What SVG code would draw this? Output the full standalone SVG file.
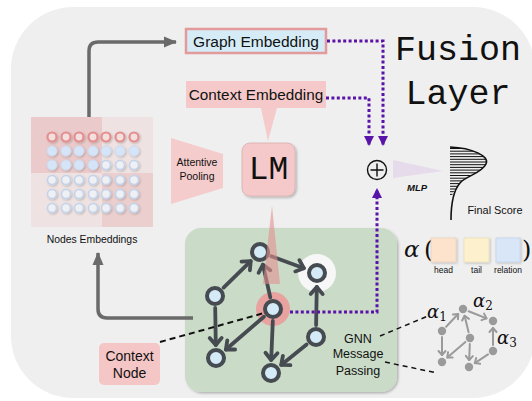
<svg xmlns="http://www.w3.org/2000/svg" width="532" height="401" viewBox="0 0 532 401">
<style>
.t{font-family:"Liberation Sans","DejaVu Sans",sans-serif;fill:#111}
.mono{font-family:"Liberation Mono","Courier New",monospace;fill:#111}
.math{font-family:"DejaVu Serif","Liberation Serif",serif;font-style:italic;fill:#111}
.gr{fill:none;stroke:#6a6a6a;stroke-width:3.5;stroke-linejoin:round}
.pu{fill:none;stroke:#5a13a8;stroke-width:3;stroke-dasharray:3 2.4}
.ge{stroke:#454b50;stroke-width:3.8;stroke-linecap:round;marker-end:url(#chev)}
.gn{fill:#d4ebf7;stroke:#454b50;stroke-width:4}
.se{stroke:#9a9a9a;stroke-width:2;stroke-linecap:round;marker-end:url(#schev)}
.sn{fill:#9a9a9a}
.ring{fill:#eef0f4;stroke:#c3d3ea;stroke-width:1.6}
.fill{fill:#d6e4f7;stroke:#cbdaf0;stroke-width:1}
.pring{fill:#f4dede;stroke:#e38f8f;stroke-width:2.2}
.hatch line{stroke:#111;stroke-width:1}
</style>
<defs>
<filter id="sh" x="-20%" y="-20%" width="150%" height="150%"><feDropShadow dx="1.5" dy="1.5" stdDeviation="1.2" flood-color="#000" flood-opacity="0.25"/></filter>
<filter id="shs" x="-50%" y="-50%" width="200%" height="200%"><feDropShadow dx="1" dy="1" stdDeviation="0.8" flood-color="#000" flood-opacity="0.22"/></filter>
<marker id="garr" markerUnits="userSpaceOnUse" markerWidth="14" markerHeight="12" refX="12" refY="6" orient="auto"><path d="M0,0.5 L13,6 L0,11.5 z" fill="#6a6a6a"/></marker>
<marker id="parr" markerUnits="userSpaceOnUse" markerWidth="11" markerHeight="11" refX="9" refY="5" orient="auto"><path d="M0,0 L10,5 L0,10 z" fill="#5a13a8"/></marker>
<marker id="chev" markerUnits="userSpaceOnUse" markerWidth="14" markerHeight="14" refX="8" refY="6.5" orient="auto" overflow="visible"><path d="M1,0.5 L8,6.5 L1,12.5" fill="none" stroke="#454b50" stroke-width="3.8" stroke-linecap="round" stroke-linejoin="round"/></marker>
<marker id="schev" markerUnits="userSpaceOnUse" markerWidth="8" markerHeight="8" refX="4.5" refY="4" orient="auto" overflow="visible"><path d="M0.5,0.5 L4.5,4 L0.5,7.5" fill="none" stroke="#9a9a9a" stroke-width="2" stroke-linecap="round" stroke-linejoin="round"/></marker>
<clipPath id="hc"><path d="M450,147 C472,148 490,156 486,164 C482,173 466,176 460,183 C455,189 453,193 452,196 L450,196 Z"/></clipPath>
</defs>

<rect x="11" y="7" width="524" height="391" rx="62" fill="#efefef"/>

<g id="graph-embedding">
<rect x="186" y="29" width="140" height="24" fill="#d5ecf6" stroke="#e39a9a" stroke-width="2.5"/>
<text class="t" x="256" y="46.5" font-size="15.5" text-anchor="middle">Graph Embedding</text>
</g>

<g id="context-embedding">
<rect x="186" y="81" width="140" height="27" fill="#f5c9c9"/>
<text class="t" x="256" y="100" font-size="15.3" text-anchor="middle">Context Embedding</text>
<polygon points="261,108 277,108 268,141" fill="#f5caca"/>
</g>

<g id="nodes-embeddings">
<rect x="31" y="117" width="71" height="56" fill="#eacaca"/>
<rect x="102" y="117" width="51" height="56" fill="#eee2e2"/>
<rect x="31" y="173" width="71" height="54" fill="#eee2e2"/>
<rect x="102" y="173" width="51" height="54" fill="#ebcfcf"/>
<g filter="url(#shs)">
<circle class="pring" cx="52" cy="137" r="4.5"/><circle class="pring" cx="66" cy="137" r="4.5"/><circle class="pring" cx="79" cy="137" r="4.5"/><circle class="pring" cx="93" cy="137" r="4.5"/><circle class="pring" cx="106" cy="137" r="4.5"/><circle class="pring" cx="120" cy="137" r="4.5"/><circle class="pring" cx="134" cy="137" r="4.5"/>
<circle class="fill" cx="52" cy="151" r="5"/><circle class="fill" cx="66" cy="151" r="5"/><circle class="fill" cx="79" cy="151" r="5"/><circle class="fill" cx="93" cy="151" r="5"/><circle class="fill" cx="106" cy="151" r="5"/><circle class="fill" cx="120" cy="151" r="5"/><circle class="fill" cx="134" cy="151" r="5"/>
<circle class="fill" cx="52" cy="165" r="5"/><circle class="fill" cx="66" cy="165" r="5"/><circle class="fill" cx="79" cy="165" r="5"/><circle class="fill" cx="93" cy="165" r="5"/><circle class="ring" cx="106" cy="165" r="4.5"/><circle class="ring" cx="120" cy="165" r="4.5"/><circle class="ring" cx="134" cy="165" r="4.5"/>
<circle class="ring" cx="52" cy="180" r="4.5"/><circle class="ring" cx="66" cy="180" r="4.5"/><circle class="ring" cx="79" cy="180" r="4.5"/><circle class="ring" cx="93" cy="180" r="4.5"/><circle class="ring" cx="106" cy="180" r="4.5"/><circle class="ring" cx="120" cy="180" r="4.5"/><circle class="ring" cx="134" cy="180" r="4.5"/>
<circle class="ring" cx="52" cy="194" r="4.5"/><circle class="ring" cx="66" cy="194" r="4.5"/><circle class="ring" cx="79" cy="194" r="4.5"/><circle class="ring" cx="93" cy="194" r="4.5"/><circle class="ring" cx="106" cy="194" r="4.5"/><circle class="ring" cx="120" cy="194" r="4.5"/><circle class="ring" cx="134" cy="194" r="4.5"/>
<circle class="ring" cx="52" cy="208" r="4.5"/><circle class="ring" cx="66" cy="208" r="4.5"/><circle class="ring" cx="79" cy="208" r="4.5"/><circle class="ring" cx="93" cy="208" r="4.5"/><circle class="ring" cx="106" cy="208" r="4.5"/><circle class="ring" cx="120" cy="208" r="4.5"/><circle class="ring" cx="134" cy="208" r="4.5"/>
</g>
<text class="t" x="92" y="243" font-size="10.4" text-anchor="middle">Nodes Embeddings</text>
</g>

<g id="attentive-pooling">
<polygon points="171,138 223,154 223,188 171,204" fill="#f5cccc"/>
<text class="t" x="197" y="166" font-size="10.5" text-anchor="middle">Attentive</text>
<text class="t" x="197" y="180" font-size="10.5" text-anchor="middle">Pooling</text>
</g>

<g id="lm">
<rect x="242" y="143" width="53" height="53" rx="8" fill="#f5c9c9" stroke="#d9b0b0" stroke-width="0.8" filter="url(#sh)"/>
<text class="mono" x="268.5" y="179" font-size="33" text-anchor="middle">LM</text>
</g>

<g id="fusion-layer">
<text class="mono" x="458" y="60" font-size="35" text-anchor="middle">Fusion</text>
<text class="mono" x="458" y="104" font-size="35" text-anchor="middle">Layer</text>
</g>

<g id="concat">
<circle cx="377" cy="170" r="9.5" fill="none" stroke="#111" stroke-width="1.4"/>
<path d="M370.5,170 H383.5 M377,163.5 V176.5" stroke="#111" stroke-width="1.4"/>
</g>

<g id="mlp">
<polygon points="393,160 443,171 393,178" fill="#e6dbeb"/>
<text class="t" x="417" y="191" font-size="9.5" text-anchor="middle" font-weight="bold" font-style="italic" fill="#222">MLP</text>
</g>

<g id="final-score">
<g class="hatch" clip-path="url(#hc)">
<line x1="448" y1="148.5" x2="492" y2="148.5"/><line x1="448" y1="151.2" x2="492" y2="151.2"/><line x1="448" y1="153.9" x2="492" y2="153.9"/><line x1="448" y1="156.6" x2="492" y2="156.6"/><line x1="448" y1="159.3" x2="492" y2="159.3"/><line x1="448" y1="162" x2="492" y2="162"/><line x1="448" y1="164.7" x2="492" y2="164.7"/><line x1="448" y1="167.4" x2="492" y2="167.4"/><line x1="448" y1="170.1" x2="492" y2="170.1"/><line x1="448" y1="172.8" x2="492" y2="172.8"/><line x1="448" y1="175.5" x2="492" y2="175.5"/><line x1="448" y1="178.2" x2="492" y2="178.2"/><line x1="448" y1="180.9" x2="492" y2="180.9"/><line x1="448" y1="183.6" x2="492" y2="183.6"/><line x1="448" y1="186.3" x2="492" y2="186.3"/><line x1="448" y1="189" x2="492" y2="189"/><line x1="448" y1="191.7" x2="492" y2="191.7"/><line x1="448" y1="194.4" x2="492" y2="194.4"/>
</g>
<path d="M450,147 C472,148 490,156 486,164 C482,173 466,176 460,183 C453,191 451,205 451,220" fill="none" stroke="#111" stroke-width="1.6"/>
<text class="t" x="495" y="214" font-size="10.9" text-anchor="middle">Final Score</text>
</g>

<g id="attention">
<text class="math" x="404" y="257" font-size="23">α</text>
<text class="t" x="424" y="258" font-size="24" fill="#111" style="font-family:'DejaVu Serif','Liberation Serif',serif">(</text>
<rect x="431" y="238" width="25" height="24" fill="#fde3cc" stroke="#e9d3bd" stroke-width="0.8" filter="url(#shs)"/>
<rect x="464" y="238" width="25" height="24" fill="#fdf0cc" stroke="#ebdfbb" stroke-width="0.8" filter="url(#shs)"/>
<rect x="496" y="238" width="24" height="24" fill="#d8e6f7" stroke="#c6d5e9" stroke-width="0.8" filter="url(#shs)"/>
<text class="t" x="522" y="258" font-size="24" style="font-family:'DejaVu Serif','Liberation Serif',serif">)</text>
<text class="t" x="443.5" y="273" font-size="8.5" text-anchor="middle">head</text>
<text class="t" x="476.5" y="273" font-size="8.5" text-anchor="middle">tail</text>
<text class="t" x="508" y="273" font-size="8.5" text-anchor="middle">relation</text>
</g>

<g id="gnn">
<rect x="185" y="228" width="212" height="164" rx="16" fill="#cadbc8" filter="url(#sh)"/>
<circle cx="273" cy="309" r="17" fill="#e8a2a0"/>
<circle cx="317" cy="273" r="19" fill="#f7f7f7"/>
<g id="gnn-edges">
<line class="ge" x1="223.6" y1="287.6" x2="250.7" y2="261.1"/>
<line class="ge" x1="271.3" y1="256.2" x2="303.9" y2="268.2"/>
<line class="ge" x1="215.2" y1="308" x2="215.8" y2="345"/>
<line class="ge" x1="263.9" y1="316.8" x2="225.9" y2="349.5"/>
<line class="ge" x1="272.8" y1="321" x2="271.2" y2="360"/>
<line class="ge" x1="316.1" y1="325" x2="316.8" y2="287"/>
<line class="ge" x1="306.6" y1="344.5" x2="281.2" y2="364.9"/>
<line class="ge" x1="270.3" y1="297.3" x2="262.9" y2="264.7"/>
</g>
<line x1="160" y1="342" x2="266" y2="312.5" stroke="#111" stroke-width="2" stroke-dasharray="6 4"/>
<circle class="gn" cx="260" cy="252" r="8"/>
<circle class="gn" cx="317" cy="273" r="8"/>
<circle class="gn" cx="215" cy="296" r="8"/>
<circle class="gn" cx="273" cy="309" r="8" fill="#ffffff"/>
<circle class="gn" cx="316" cy="337" r="8"/>
<circle class="gn" cx="216" cy="358" r="8"/>
<circle class="gn" cx="271" cy="373" r="8"/>
<polygon points="263,284 280,284 272,206" fill="#e38f8f" opacity="0.6"/>
<text class="t" x="358" y="343" font-size="12.5" text-anchor="middle">GNN</text>
<text class="t" x="358" y="358" font-size="12.5" text-anchor="middle">Message</text>
<text class="t" x="358" y="375" font-size="12.5" text-anchor="middle">Passing</text>
</g>

<g id="context-node">
<rect x="99" y="343" width="61" height="42" rx="5" fill="#f5c6c6"/>
<text class="t" x="129.5" y="361" font-size="14" text-anchor="middle">Context</text>
<text class="t" x="129.5" y="378" font-size="14" text-anchor="middle">Node</text>
</g>

<g id="attention-graph">
<line class="se" x1="446.1" y1="326.7" x2="458.2" y2="314"/>
<line class="se" x1="468.6" y1="311.2" x2="486.5" y2="318.4"/>
<line class="se" x1="442" y1="337" x2="442" y2="355"/>
<line class="se" x1="468.6" y1="332.2" x2="464.6" y2="315.8"/>
<line class="se" x1="465.4" y1="341.9" x2="447.3" y2="357.4"/>
<line class="se" x1="469.8" y1="344" x2="469.2" y2="360"/>
<line class="se" x1="493" y1="345" x2="493" y2="328"/>
<line class="se" x1="488" y1="354.3" x2="474.8" y2="363.1"/>
<circle class="sn" cx="442" cy="331" r="4.2"/>
<circle class="sn" cx="463" cy="309" r="4.2"/>
<circle class="sn" cx="493" cy="321" r="4.2"/>
<circle class="sn" cx="470" cy="338" r="4.2"/>
<circle class="sn" cx="493" cy="351" r="4.2"/>
<circle class="sn" cx="442" cy="362" r="4.2"/>
<circle class="sn" cx="469" cy="367" r="4.2"/>
<text class="math" x="427" y="318" font-size="18">α<tspan font-style="normal" font-size="12" dy="3">1</tspan></text>
<text class="math" x="473" y="307" font-size="18">α<tspan font-style="normal" font-size="12" dy="3">2</tspan></text>
<text class="math" x="497" y="344" font-size="18">α<tspan font-style="normal" font-size="12" dy="3">3</tspan></text>
</g>

<g id="connectors">
<path class="gr" d="M89,117 V51 Q89,42 98,42 H176" marker-end="url(#garr)"/>
<path class="gr" d="M193,318 H107 Q98,318 98,309 V253" marker-end="url(#garr)"/>
<path class="pu" d="M327,41 H383 V145" marker-end="url(#parr)"/>
<path class="pu" d="M326,98 H369 V145" marker-end="url(#parr)"/>
<path class="pu" d="M290,312 H377 V189" marker-end="url(#parr)"/>
<line x1="380" y1="336" x2="428" y2="316" stroke="#111" stroke-width="1.5" stroke-dasharray="5 4"/>
<line x1="385" y1="362" x2="437" y2="373" stroke="#111" stroke-width="1.5" stroke-dasharray="5 4"/>
</g>
</svg>
